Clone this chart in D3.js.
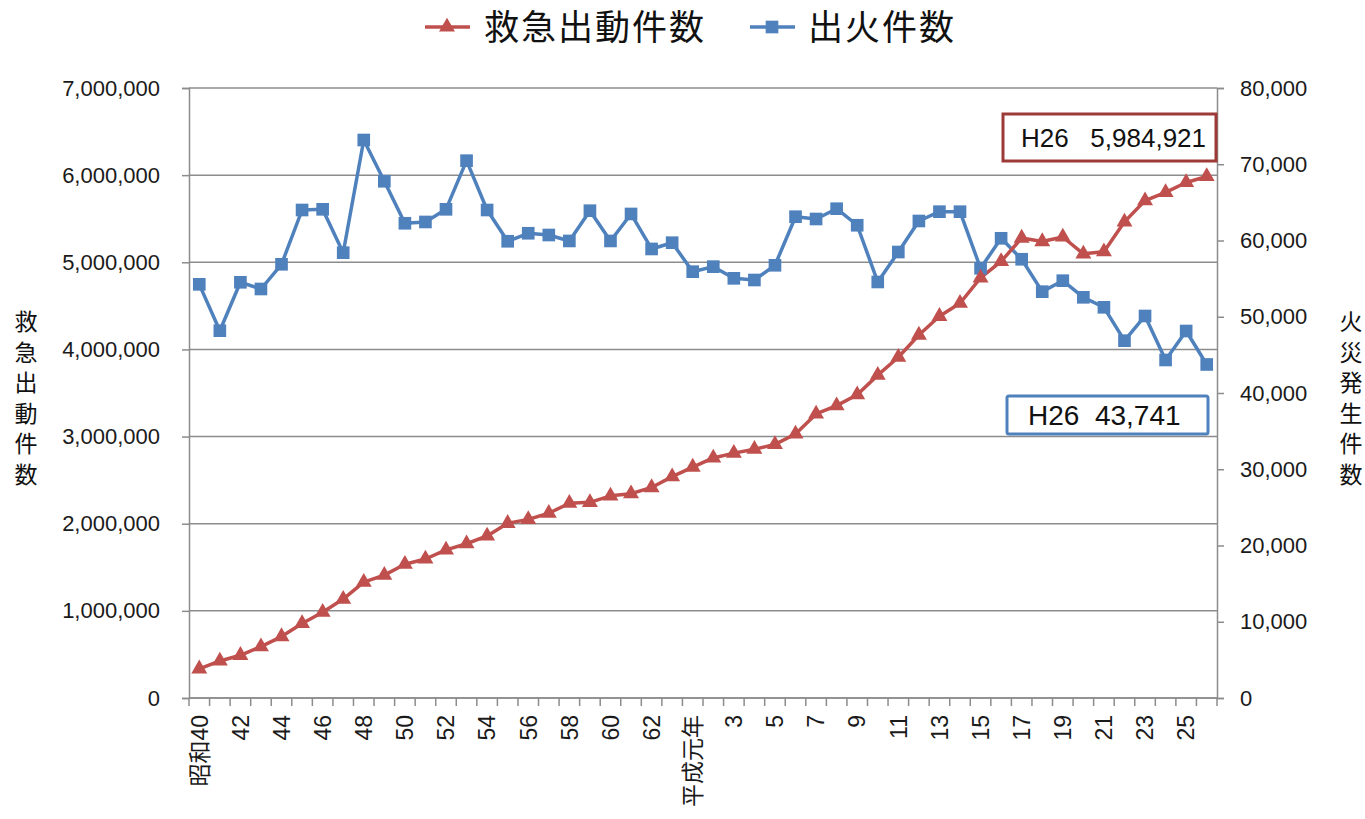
<!DOCTYPE html>
<html>
<head>
<meta charset="utf-8">
<script src="https://cdn.jsdelivr.net/npm/d3@7"></script>
<style>
  body { margin: 0; background: #fff; }
  text { font-family: "Liberation Sans", Arial, "Noto Sans CJK JP", sans-serif; }
  .jp { font-family: "Noto Sans CJK JP", sans-serif; }
  .pre { white-space: pre; }
</style>
</head>
<body>
<svg width="1365" height="819"></svg>
<script>
// 昭和40年〜平成26年
var categories = ["昭和40","41","42","43","44","45","46","47","48","49","50","51","52","53","54","55","56","57","58","59","60","61","62","63",
  "平成元年","2","3","4","5","6","7","8","9","10","11","12","13","14","15","16","17","18","19","20","21","22","23","24","25","26"];

// 救急出動件数 (left axis)
var emergency = [335000, 425000, 490000, 590000, 705000, 855000, 985000, 1135000, 1330000, 1410000,
  1535000, 1595000, 1700000, 1770000, 1860000, 2005000, 2050000, 2120000, 2235000, 2245000,
  2320000, 2345000, 2415000, 2540000, 2650000, 2755000, 2810000, 2855000, 2910000, 3030000,
  3260000, 3355000, 3480000, 3705000, 3910000, 4165000, 4380000, 4530000, 4820000, 5010000,
  5278000, 5238000, 5290000, 5097000, 5122000, 5464000, 5708000, 5802000, 5916000, 5984921];

// 出火件数 (right axis)
var fires = [54250, 48170, 54520, 53640, 56880, 64000, 64090, 58400, 73180, 67770,
  62260, 62430, 64090, 70470, 64000, 59900, 60950, 60720, 59940, 63910,
  59940, 63480, 58890, 59710, 55910, 56570, 55040, 54820, 56750, 63120,
  62820, 64170, 62000, 54560, 58490, 62560, 63780, 63780, 56360, 60290,
  57540, 53290, 54730, 52550, 51240, 46860, 50100, 44330, 48130, 43741];

var leftTicks = [0, 1000000, 2000000, 3000000, 4000000, 5000000, 6000000, 7000000];
var rightTicks = [0, 10000, 20000, 30000, 40000, 50000, 60000, 70000, 80000];

var red = "#C0504D", blue = "#4F81BD", grid = "#8c8c8c";

var svg = d3.select("svg");
var plotL = 189, plotR = 1217, plotT = 88, plotB = 698;

var x = d3.scaleBand().domain(categories).range([plotL, plotR]);
var yL = d3.scaleLinear().domain([0, 7000000]).range([plotB, plotT]);
var yR = d3.scaleLinear().domain([0, 80000]).range([plotB, plotT]);
var fmt = d3.format(",");

// gridlines
svg.append("g")
  .selectAll("line")
  .data(leftTicks)
  .enter()
  .append("line")
  .attr("x1", plotL)
  .attr("x2", plotR)
  .attr("y1", function (d) { return yL(d); })
  .attr("y2", function (d) { return yL(d); })
  .attr("stroke", grid)
  .attr("stroke-width", 1.5);

// left axis
var gl = svg.append("g").attr("transform", "translate(" + plotL + ",0)")
  .call(d3.axisLeft(yL).tickValues(leftTicks).tickSize(7).tickPadding(22).tickFormat(fmt));
gl.selectAll("line, path").attr("stroke", grid).attr("stroke-width", 1.5);
gl.selectAll("text").attr("font-size", 22).attr("fill", "#1a1a1a")
  .style("font-family", "'Liberation Sans', Arial, sans-serif");

// right axis
var gr = svg.append("g").attr("transform", "translate(" + plotR + ",0)")
  .call(d3.axisRight(yR).tickValues(rightTicks).tickSize(7).tickPadding(16).tickFormat(fmt));
gr.selectAll("line, path").attr("stroke", grid).attr("stroke-width", 1.5);
gr.selectAll("text").attr("font-size", 22).attr("fill", "#1a1a1a")
  .style("font-family", "'Liberation Sans', Arial, sans-serif");

// bottom axis: ticks on category boundaries
var gb = svg.append("g").attr("transform", "translate(0," + plotB + ")");
gb.append("line").attr("x1", plotL).attr("x2", plotR).attr("stroke", grid).attr("stroke-width", 1.5);
gb.selectAll(".tk")
  .data(categories.concat(["end"]))
  .enter()
  .append("line")
  .attr("class", "tk")
  .attr("x1", function (d, i) { return plotL + i * x.step(); })
  .attr("x2", function (d, i) { return plotL + i * x.step(); })
  .attr("y1", 0)
  .attr("y2", 8)
  .attr("stroke", grid)
  .attr("stroke-width", 1.5);
gb.selectAll(".lbl")
  .data(categories.filter(function (d, i) { return i % 2 === 0; }))
  .enter()
  .append("text")
  .attr("class", "lbl")
  .attr("transform", function (d) {
    return "translate(" + (x(d) + x.bandwidth() / 2) + ",17) rotate(-90)";
  })
  .attr("dy", "0.36em")
  .attr("text-anchor", "end")
  .attr("font-size", 23)
  .attr("fill", "#1a1a1a")
  .style("font-family", "'Liberation Sans', 'Noto Sans CJK JP', sans-serif")
  .text(function (d) { return d; });

// lines
function cx(d, i) { return x(categories[i]) + x.bandwidth() / 2; }

svg.append("path")
  .datum(fires)
  .attr("fill", "none")
  .attr("stroke", blue)
  .attr("stroke-width", 3.5)
  .attr("stroke-linejoin", "round")
  .attr("d", d3.line().x(cx).y(function (d) { return yR(d); }));

svg.append("path")
  .datum(emergency)
  .attr("fill", "none")
  .attr("stroke", red)
  .attr("stroke-width", 3.5)
  .attr("stroke-linejoin", "round")
  .attr("d", d3.line().x(cx).y(function (d) { return yL(d); }));

var square = d3.symbol().type(d3.symbolSquare).size(160);
var triangle = d3.symbol().type(d3.symbolTriangle).size(110);

svg.append("g")
  .selectAll("path")
  .data(fires)
  .enter()
  .append("path")
  .attr("d", square)
  .attr("fill", blue)
  .attr("transform", function (d, i) { return "translate(" + cx(d, i) + "," + yR(d) + ")"; });

svg.append("g")
  .selectAll("path")
  .data(emergency)
  .enter()
  .append("path")
  .attr("d", triangle)
  .attr("fill", red)
  .attr("transform", function (d, i) { return "translate(" + cx(d, i) + "," + yL(d) + ")"; });

// annotations
var last = categories.length - 1;
svg.append("rect")
  .attr("x", 1003).attr("y", 114).attr("width", 213).attr("height", 47)
  .attr("fill", "#fff").attr("stroke", "#9c3a38").attr("stroke-width", 3);
svg.append("text")
  .attr("class", "pre")
  .attr("x", 1021).attr("y", 147)
  .attr("font-size", 26).attr("fill", "#111")
  .text("H26   " + fmt(emergency[last]));

svg.append("rect")
  .attr("x", 1007).attr("y", 396).attr("width", 201).attr("height", 38)
  .attr("rx", 2)
  .attr("fill", "#fff").attr("stroke", blue).attr("stroke-width", 3);
svg.append("text")
  .attr("class", "pre")
  .attr("x", 1028).attr("y", 425)
  .attr("font-size", 28).attr("fill", "#111")
  .text("H26  " + fmt(fires[last]));

// axis titles (vertical)
function vtitle(str, xpos) {
  svg.append("g").selectAll("text")
    .data(str.split(""))
    .enter()
    .append("text")
    .attr("class", "jp")
    .attr("x", xpos)
    .attr("y", function (d, i) { return 330 + i * 30.5; })
    .attr("text-anchor", "middle")
    .attr("font-size", 23)
    .attr("fill", "#111")
    .text(function (d) { return d; });
}
vtitle("救急出動件数", 26);
vtitle("火災発生件数", 1351);

// legend
var lg = svg.append("g").attr("transform", "translate(0,27)");
lg.append("line").attr("x1", 425).attr("x2", 470).attr("stroke", red).attr("stroke-width", 3.5);
lg.append("path").attr("d", triangle).attr("fill", red).attr("transform", "translate(447,0)");
lg.append("text").attr("class", "jp").attr("x", 484).attr("dy", "0.36em")
  .attr("font-size", 35).attr("letter-spacing", 2).attr("fill", "#111").text("救急出動件数");
lg.append("line").attr("x1", 750).attr("x2", 795).attr("stroke", blue).attr("stroke-width", 3.5);
lg.append("path").attr("d", square).attr("fill", blue).attr("transform", "translate(772,0)");
lg.append("text").attr("class", "jp").attr("x", 808).attr("dy", "0.36em")
  .attr("font-size", 35).attr("letter-spacing", 2).attr("fill", "#111").text("出火件数");
</script>
</body>
</html>
